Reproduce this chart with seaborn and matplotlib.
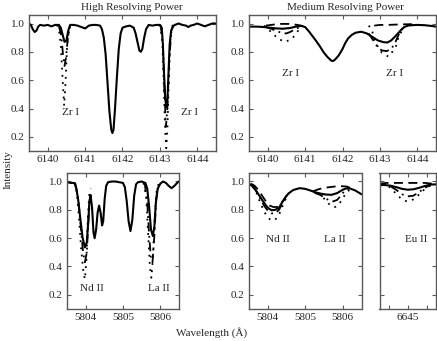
import matplotlib
matplotlib.use('Agg')
import matplotlib.pyplot as plt
import seaborn as sns

# ---- values ----

# High resolving power, 6139.5 - 6144.5 A (Zr I lines)
hi_zr_wl = [6139.50, 6139.55, 6139.60, 6139.65, 6139.70, 6139.75, 6139.80, 6139.90, 6140.00, 6140.10,
            6140.20, 6140.30, 6140.35, 6140.40, 6140.45, 6140.50, 6140.55, 6140.60, 6140.70, 6140.80,
            6140.90, 6141.00, 6141.10, 6141.20, 6141.30, 6141.40, 6141.45, 6141.50, 6141.55, 6141.60,
            6141.65, 6141.70, 6141.73, 6141.76, 6141.80, 6141.85, 6141.90, 6141.95, 6142.00, 6142.05,
            6142.10, 6142.20, 6142.30, 6142.35, 6142.40, 6142.45, 6142.49, 6142.53, 6142.58, 6142.63,
            6142.70, 6142.80, 6142.90, 6143.00, 6143.05, 6143.08, 6143.11, 6143.14, 6143.17, 6143.20,
            6143.23, 6143.26, 6143.30, 6143.35, 6143.40, 6143.50, 6143.60, 6143.70, 6143.76, 6143.82,
            6143.90, 6144.00, 6144.10, 6144.20, 6144.30, 6144.40, 6144.50]
hi_zr_obs = [1.00, 0.99, 0.96, 0.94, 0.95, 0.98, 0.99, 0.985, 0.99, 0.98,
             0.99, 0.99, 0.97, 0.92, 0.87, 0.88, 0.95, 0.99, 0.99, 0.985,
             0.975, 0.965, 0.985, 0.99, 0.99, 0.985, 0.96, 0.90, 0.78, 0.58,
             0.38, 0.25, 0.227, 0.25, 0.40, 0.62, 0.82, 0.93, 0.97, 0.975,
             0.98, 0.985, 0.97, 0.93, 0.87, 0.81, 0.80, 0.82, 0.90, 0.96,
             0.99, 0.985, 0.99, 0.99, 0.97, 0.85, 0.65, 0.48, 0.41, 0.45,
             0.65, 0.85, 0.95, 0.98, 0.99, 1.00, 0.99, 0.985, 0.975, 0.985,
             0.99, 1.00, 0.99, 0.98, 0.99, 1.00, 1.00]
hi_zr1_dd_wl = [6140.30, 6140.36, 6140.41, 6140.45, 6140.49, 6140.54, 6140.60]
hi_zr1_dd = [0.98, 0.92, 0.78, 0.70, 0.76, 0.90, 0.98]
hi_zr1_dot_wl = [6140.25, 6140.30, 6140.35, 6140.40, 6140.44, 6140.48, 6140.52, 6140.57, 6140.62]
hi_zr1_dot = [0.99, 0.96, 0.85, 0.60, 0.42, 0.60, 0.85, 0.96, 0.99]
hi_zr2_dd_wl = [6143.02, 6143.08, 6143.12, 6143.16, 6143.20, 6143.25, 6143.31, 6143.36]
hi_zr2_dd = [0.99, 0.85, 0.55, 0.27, 0.40, 0.75, 0.95, 0.99]
hi_zr2_dot_wl = [6143.00, 6143.06, 6143.10, 6143.14, 6143.17, 6143.20, 6143.24, 6143.28, 6143.34]
hi_zr2_dot = [0.99, 0.90, 0.60, 0.25, 0.12, 0.25, 0.60, 0.90, 0.99]

# Medium resolving power, same window
med_zr_wl = [6139.50, 6139.70, 6139.90, 6140.00, 6140.20, 6140.40, 6140.60, 6140.75, 6140.90, 6141.00,
             6141.10, 6141.20, 6141.30, 6141.40, 6141.50, 6141.60, 6141.70, 6141.75, 6141.80, 6141.90,
             6142.00, 6142.07, 6142.15, 6142.25, 6142.35, 6142.50, 6142.65, 6142.80, 6142.95, 6143.10,
             6143.20, 6143.30, 6143.45, 6143.55, 6143.65, 6143.75, 6143.85, 6144.00, 6144.20, 6144.40,
             6144.50]
med_zr_obs = [0.978, 0.978, 0.975, 0.972, 0.966, 0.963, 0.968, 0.978, 0.983, 0.975,
              0.945, 0.910, 0.875, 0.837, 0.795, 0.763, 0.738, 0.735, 0.745, 0.775,
              0.820, 0.860, 0.895, 0.920, 0.935, 0.942, 0.930, 0.905, 0.880, 0.868,
              0.866, 0.880, 0.920, 0.950, 0.975, 0.985, 0.988, 0.990, 0.988, 0.982,
              0.978]
med_zr1_dash_wl = [6139.95, 6140.15, 6140.35, 6140.55, 6140.75, 6140.90]
med_zr1_dash = [0.985, 0.992, 0.997, 0.997, 0.992, 0.985]
med_zr1_dd_wl = [6139.95, 6140.10, 6140.25, 6140.40, 6140.50, 6140.60, 6140.75, 6140.90]
med_zr1_dd = [0.975, 0.962, 0.945, 0.932, 0.930, 0.940, 0.962, 0.980]
med_zr1_dot_wl = [6139.90, 6140.00, 6140.12, 6140.30, 6140.46, 6140.64, 6140.77, 6140.87, 6140.95]
med_zr1_dot = [0.985, 0.965, 0.930, 0.890, 0.870, 0.890, 0.930, 0.975, 0.985]
med_zr2_dash_wl = [6142.85, 6143.00, 6143.20, 6143.40, 6143.60, 6143.80, 6144.00]
med_zr2_dash = [0.985, 0.99, 0.99, 0.992, 0.994, 0.995, 0.993]
med_zr2_dd_wl = [6142.70, 6142.85, 6142.95, 6143.05, 6143.18, 6143.30, 6143.40, 6143.50, 6143.60, 6143.70]
med_zr2_dd = [0.930, 0.870, 0.830, 0.810, 0.805, 0.820, 0.860, 0.920, 0.965, 0.985]
med_zr2_dot_wl = [6142.70, 6142.78, 6142.85, 6142.94, 6143.05, 6143.23, 6143.36, 6143.45, 6143.50, 6143.57, 6143.65]
med_zr2_dot = [0.985, 0.960, 0.890, 0.840, 0.794, 0.766, 0.810, 0.850, 0.910, 0.940, 0.970]

# High resolving power, 5803.5 - 5806.5 A (Nd II, La II)
hi_nd_wl = [5803.50, 5803.60, 5803.70, 5803.75, 5803.80, 5803.86, 5803.92, 5803.98, 5804.03, 5804.07,
            5804.10, 5804.13, 5804.17, 5804.21, 5804.24, 5804.28, 5804.32, 5804.36, 5804.40, 5804.44,
            5804.47, 5804.51, 5804.55, 5804.60, 5804.70, 5804.80, 5804.90, 5805.00, 5805.05, 5805.10,
            5805.15, 5805.20, 5805.25, 5805.30, 5805.35, 5805.40, 5805.50, 5805.60, 5805.65, 5805.70,
            5805.75, 5805.80, 5805.84, 5805.88, 5805.93, 5806.00, 5806.07, 5806.15, 5806.22, 5806.30,
            5806.38, 5806.45, 5806.50]
hi_nd_obs = [0.995, 0.99, 0.99, 0.95, 0.87, 0.73, 0.60, 0.535, 0.57, 0.72,
             0.86, 0.905, 0.82, 0.64, 0.60, 0.66, 0.78, 0.83, 0.78, 0.69,
             0.72, 0.88, 0.97, 0.995, 1.00, 1.00, 0.995, 0.99, 0.96, 0.86,
             0.72, 0.65, 0.73, 0.90, 0.98, 0.995, 1.00, 0.99, 0.95, 0.82,
             0.66, 0.615, 0.68, 0.85, 0.95, 0.985, 1.00, 0.99, 0.97, 0.953,
             0.97, 0.99, 1.00]
hi_nd_dd_wl = [5803.72, 5803.80, 5803.87, 5803.93, 5803.98, 5804.03, 5804.08, 5804.12]
hi_nd_dd = [0.99, 0.88, 0.68, 0.50, 0.43, 0.50, 0.75, 0.90]
hi_nd_dot_wl = [5803.70, 5803.76, 5803.82, 5803.88, 5803.94, 5803.98, 5804.02, 5804.06, 5804.10, 5804.14]
hi_nd_dot = [0.99, 0.93, 0.75, 0.52, 0.36, 0.31, 0.45, 0.75, 0.92, 0.95]
hi_la_dd_wl = [5805.58, 5805.65, 5805.70, 5805.75, 5805.79, 5805.84, 5805.89, 5805.95]
hi_la_dd = [0.99, 0.85, 0.62, 0.45, 0.43, 0.62, 0.88, 0.98]
hi_la_dot_wl = [5805.55, 5805.62, 5805.67, 5805.72, 5805.76, 5805.80, 5805.85, 5805.90, 5805.96]
hi_la_dot = [0.99, 0.90, 0.65, 0.40, 0.32, 0.45, 0.75, 0.93, 0.99]

# Medium resolving power, 5803.5 - 5806.5 A
med_nd_wl = [5803.50, 5803.60, 5803.70, 5803.80, 5803.90, 5804.00, 5804.10, 5804.20, 5804.30, 5804.40,
             5804.46, 5804.55, 5804.68, 5804.85, 5805.00, 5805.13, 5805.25, 5805.40, 5805.55, 5805.70,
             5805.85, 5806.00, 5806.11, 5806.20, 5806.33, 5806.50]
med_nd_obs = [0.985, 0.965, 0.930, 0.890, 0.850, 0.815, 0.797, 0.800, 0.815, 0.860,
              0.884, 0.915, 0.940, 0.953, 0.948, 0.937, 0.925, 0.915, 0.908, 0.906,
              0.918, 0.942, 0.953, 0.950, 0.937, 0.910]
med_nd_dash_wl = [5803.55, 5803.65, 5803.75, 5803.85, 5803.95, 5804.05, 5804.15, 5804.25, 5804.35, 5804.45, 5804.55]
med_nd_dash = [0.985, 0.970, 0.940, 0.900, 0.860, 0.830, 0.820, 0.820, 0.840, 0.880, 0.920]
med_nd_dd_wl = [5803.60, 5803.70, 5803.80, 5803.90, 5804.00, 5804.10, 5804.20, 5804.30, 5804.40, 5804.50]
med_nd_dd = [0.970, 0.930, 0.880, 0.830, 0.795, 0.775, 0.775, 0.800, 0.850, 0.900]
med_nd_dot_wl = [5803.60, 5803.70, 5803.80, 5803.90, 5804.00, 5804.10, 5804.20, 5804.30, 5804.40, 5804.50, 5804.60]
med_nd_dot = [0.965, 0.920, 0.850, 0.790, 0.745, 0.725, 0.730, 0.765, 0.830, 0.890, 0.930]
med_la_dash_wl = [5805.20, 5805.35, 5805.50, 5805.65, 5805.80, 5805.95, 5806.10, 5806.25]
med_la_dash = [0.930, 0.945, 0.955, 0.960, 0.965, 0.967, 0.965, 0.950]
med_la_dd_wl = [5805.25, 5805.40, 5805.55, 5805.65, 5805.75, 5805.85, 5805.95, 5806.05, 5806.15]
med_la_dd = [0.920, 0.905, 0.880, 0.865, 0.860, 0.870, 0.900, 0.935, 0.950]
med_la_dot_wl = [5805.35, 5805.50, 5805.60, 5805.70, 5805.80, 5805.90, 5806.00, 5806.10, 5806.20]
med_la_dot = [0.920, 0.880, 0.850, 0.825, 0.820, 0.840, 0.880, 0.925, 0.945]

# Medium resolving power, Eu II 6645 A
med_eu_wl = [6644.25, 6644.40, 6644.55, 6644.70, 6644.85, 6645.00, 6645.15, 6645.30, 6645.45, 6645.60, 6645.75]
med_eu_obs = [0.975, 0.975, 0.970, 0.960, 0.948, 0.942, 0.945, 0.955, 0.968, 0.978, 0.980]
med_eu_dash_wl = [6644.25, 6644.45, 6644.65, 6644.85, 6645.05, 6645.25, 6645.45, 6645.65, 6645.75]
med_eu_dash = [0.985, 0.990, 0.990, 0.990, 0.990, 0.990, 0.990, 0.985, 0.983]
med_eu_dd_wl = [6644.55, 6644.70, 6644.85, 6645.00, 6645.15, 6645.30, 6645.45, 6645.60]
med_eu_dd = [0.965, 0.940, 0.910, 0.895, 0.900, 0.925, 0.955, 0.975]
med_eu_dot_wl = [6644.50, 6644.65, 6644.80, 6644.95, 6645.10, 6645.25, 6645.40, 6645.55, 6645.70]
med_eu_dot = [0.965, 0.925, 0.885, 0.862, 0.865, 0.895, 0.935, 0.965, 0.980]

yticks = [0.2, 0.4, 0.6, 0.8, 1.0]

# ---- style ----
sns.set_style('ticks')
plt.rcParams['font.family'] = ['Liberation Serif', 'DejaVu Serif']
plt.rcParams['font.size'] = 8

STYLES = {
    'solid': dict(linewidth=1.5, linestyle='-'),
    'dash': dict(linewidth=1.3, linestyle=(0, (5, 3))),
    'dashdot': dict(linewidth=1.3, linestyle=(0, (5, 2.5, 1, 2.5))),
    'dot': dict(linewidth=1.3, linestyle=(0, (1, 3))),
}


def draw(ax, wl, fl, kind):
    sns.lineplot(x=wl, y=fl, ax=ax, color='black', sort=False, estimator=None,
                 legend=False, **STYLES[kind])


def frame(ax, xlim, xticks, ylabels=True):
    ax.set_xlim(*xlim)
    ax.set_ylim(0.1, 1.06)
    ax.set_xticks(xticks)
    ax.set_yticks(yticks)
    ax.set_yticklabels(['%.1f' % v for v in yticks] if ylabels else [])
    ax.tick_params(direction='in', top=True, right=True, length=3, width=0.8,
                   color='0.35', labelsize=8, pad=3)
    for s in ax.spines.values():
        s.set_color('0.35')
        s.set_linewidth(1.0)
    ax.set_xlabel('')
    ax.set_ylabel('')


fig = plt.figure(figsize=(4.37, 3.41), dpi=100)
W, H = 437.0, 341.0


def axes_px(x0, x1, y0, y1):
    return fig.add_axes([x0 / W, 1 - y1 / H, (x1 - x0) / W, (y1 - y0) / H])


# top left: high resolving power
ax = axes_px(29, 216, 15, 151)
draw(ax, hi_zr1_dot_wl, hi_zr1_dot, 'dot')
draw(ax, hi_zr2_dot_wl, hi_zr2_dot, 'dot')
draw(ax, hi_zr1_dd_wl, hi_zr1_dd, 'dashdot')
draw(ax, hi_zr2_dd_wl, hi_zr2_dd, 'dashdot')
draw(ax, hi_zr_wl, hi_zr_obs, 'solid')
frame(ax, (6139.5, 6144.5), [6140, 6141, 6142, 6143, 6144])
ax.set_xticklabels(['6140', '6141', '6142', '6143', '6144'])
ax.text(6140.6, 0.37, 'Zr I', ha='center', va='center')
ax.text(6143.8, 0.37, 'Zr I', ha='center', va='center')

# top right: medium resolving power
ax = axes_px(249, 436, 15, 151)
draw(ax, med_zr1_dot_wl, med_zr1_dot, 'dot')
draw(ax, med_zr2_dot_wl, med_zr2_dot, 'dot')
draw(ax, med_zr1_dd_wl, med_zr1_dd, 'dashdot')
draw(ax, med_zr2_dd_wl, med_zr2_dd, 'dashdot')
draw(ax, med_zr1_dash_wl, med_zr1_dash, 'dash')
draw(ax, med_zr2_dash_wl, med_zr2_dash, 'dash')
draw(ax, med_zr_wl, med_zr_obs, 'solid')
frame(ax, (6139.5, 6144.5), [6140, 6141, 6142, 6143, 6144])
ax.set_xticklabels(['6140', '6141', '6142', '6143', '6144'])
ax.text(6140.6, 0.65, 'Zr I', ha='center', va='center')
ax.text(6143.4, 0.65, 'Zr I', ha='center', va='center')

# bottom left: high resolving power, Nd II / La II
ax = axes_px(67, 179, 173, 309)
draw(ax, hi_nd_dot_wl, hi_nd_dot, 'dot')
draw(ax, hi_la_dot_wl, hi_la_dot, 'dot')
draw(ax, hi_nd_dd_wl, hi_nd_dd, 'dashdot')
draw(ax, hi_la_dd_wl, hi_la_dd, 'dashdot')
draw(ax, hi_nd_wl, hi_nd_obs, 'solid')
frame(ax, (5803.5, 5806.5), [5804, 5805, 5806])
ax.set_xticklabels(['5804', '5805', '5806'])
ax.text(5804.17, 0.245, 'Nd II', ha='center', va='center')
ax.text(5805.96, 0.245, 'La II', ha='center', va='center')

# bottom middle: medium resolving power, Nd II / La II
ax = axes_px(249, 361.5, 173, 309)
draw(ax, med_nd_dot_wl, med_nd_dot, 'dot')
draw(ax, med_la_dot_wl, med_la_dot, 'dot')
draw(ax, med_nd_dd_wl, med_nd_dd, 'dashdot')
draw(ax, med_la_dd_wl, med_la_dd, 'dashdot')
draw(ax, med_nd_dash_wl, med_nd_dash, 'dash')
draw(ax, med_la_dash_wl, med_la_dash, 'dash')
draw(ax, med_nd_wl, med_nd_obs, 'solid')
frame(ax, (5803.5, 5806.5), [5804, 5805, 5806])
ax.set_xticklabels(['5804', '5805', '5806'])
ax.text(5804.26, 0.59, 'Nd II', ha='center', va='center')
ax.text(5805.78, 0.59, 'La II', ha='center', va='center')

# bottom right: medium resolving power, Eu II
ax = axes_px(379.5, 436, 173, 309)
draw(ax, med_eu_dot_wl, med_eu_dot, 'dot')
draw(ax, med_eu_dd_wl, med_eu_dd, 'dashdot')
draw(ax, med_eu_dash_wl, med_eu_dash, 'dash')
draw(ax, med_eu_wl, med_eu_obs, 'solid')
frame(ax, (6644.25, 6645.75), [6644.5, 6645, 6645.5], ylabels=False)
ax.set_xticklabels(['', '6645', ''])
ax.text(6645.22, 0.59, 'Eu II', ha='center', va='center')

fig.text(131.5 / W, 1 - 7 / H, 'High Resolving Power', ha='center', va='center', fontsize=8)
fig.text(345.5 / W, 1 - 7 / H, 'Medium Resolving Power', ha='center', va='center', fontsize=8)
fig.text(8 / W, 1 - 170 / H, 'Intensity', rotation=90, ha='center', va='center', fontsize=8)
fig.text(212 / W, 1 - 333 / H, 'Wavelength (Å)', ha='center', va='center', fontsize=8)

fig.savefig('out.png', dpi=100)
